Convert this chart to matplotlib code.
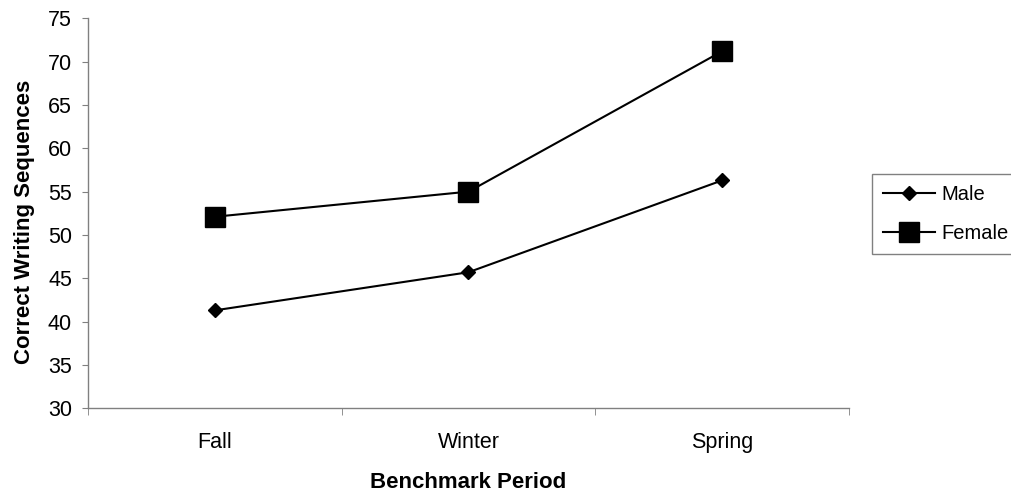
import matplotlib
matplotlib.use('Agg')
import matplotlib.pyplot as plt
import numpy as np

plt.rcParams['font.family'] = ['Liberation Sans', 'DejaVu Sans']

## Donnees
periodes = ['Fall', 'Winter', 'Spring']
male = [41.3, 45.7, 56.3]
female = [52.1, 55.0, 71.2]

## Figure
fig = plt.figure(figsize=(10.11, 5.0), dpi=100)
ax = fig.add_axes([0.087, 0.1834, 0.7528, 0.78])

x = np.arange(len(periodes))
ax.plot(x, male, color='black', lw=1.5, marker='D', ms=6.8, label='Male')
ax.plot(x, female, color='black', lw=1.5, marker='s', ms=13.7, label='Female')

ax.set_xlim(-0.5, len(periodes) - 0.5)
ax.set_ylim(30, 75)
ax.set_yticks(np.arange(30, 76, 5))
ax.set_xticks(x, periodes)
ax.set_xticks(np.arange(-0.5, len(periodes), 1), minor=True)
ax.tick_params(axis='x', which='major', length=0, pad=17, labelsize=15.5)
ax.tick_params(axis='x', which='minor', length=5, color='#808080', direction='out')
ax.tick_params(axis='y', length=4.5, color='#808080', direction='out', pad=7, labelsize=15.5)

for s in ['top', 'right']:
    ax.spines[s].set_visible(False)
for s in ['left', 'bottom']:
    ax.spines[s].set_color('#808080')
    ax.spines[s].set_linewidth(1.0)

ax.set_xlabel('Benchmark Period', fontsize=16, fontweight='bold', labelpad=14)
ax.set_ylabel('Correct Writing Sequences', fontsize=16, fontweight='bold', labelpad=9)
ax.yaxis.label.set_y(0.477)

leg = ax.legend(loc='upper left', bbox_to_anchor=(872 / 1011, 1 - 174 / 500),
                bbox_transform=fig.transFigure, fontsize=14.5, frameon=True,
                fancybox=False, edgecolor='#808080', framealpha=1,
                handlelength=2.6, handletextpad=0.3, borderpad=0.55,
                labelspacing=1.0, borderaxespad=0)
leg.get_frame().set_linewidth(1.0)

fig.savefig('out.png', dpi=100)
